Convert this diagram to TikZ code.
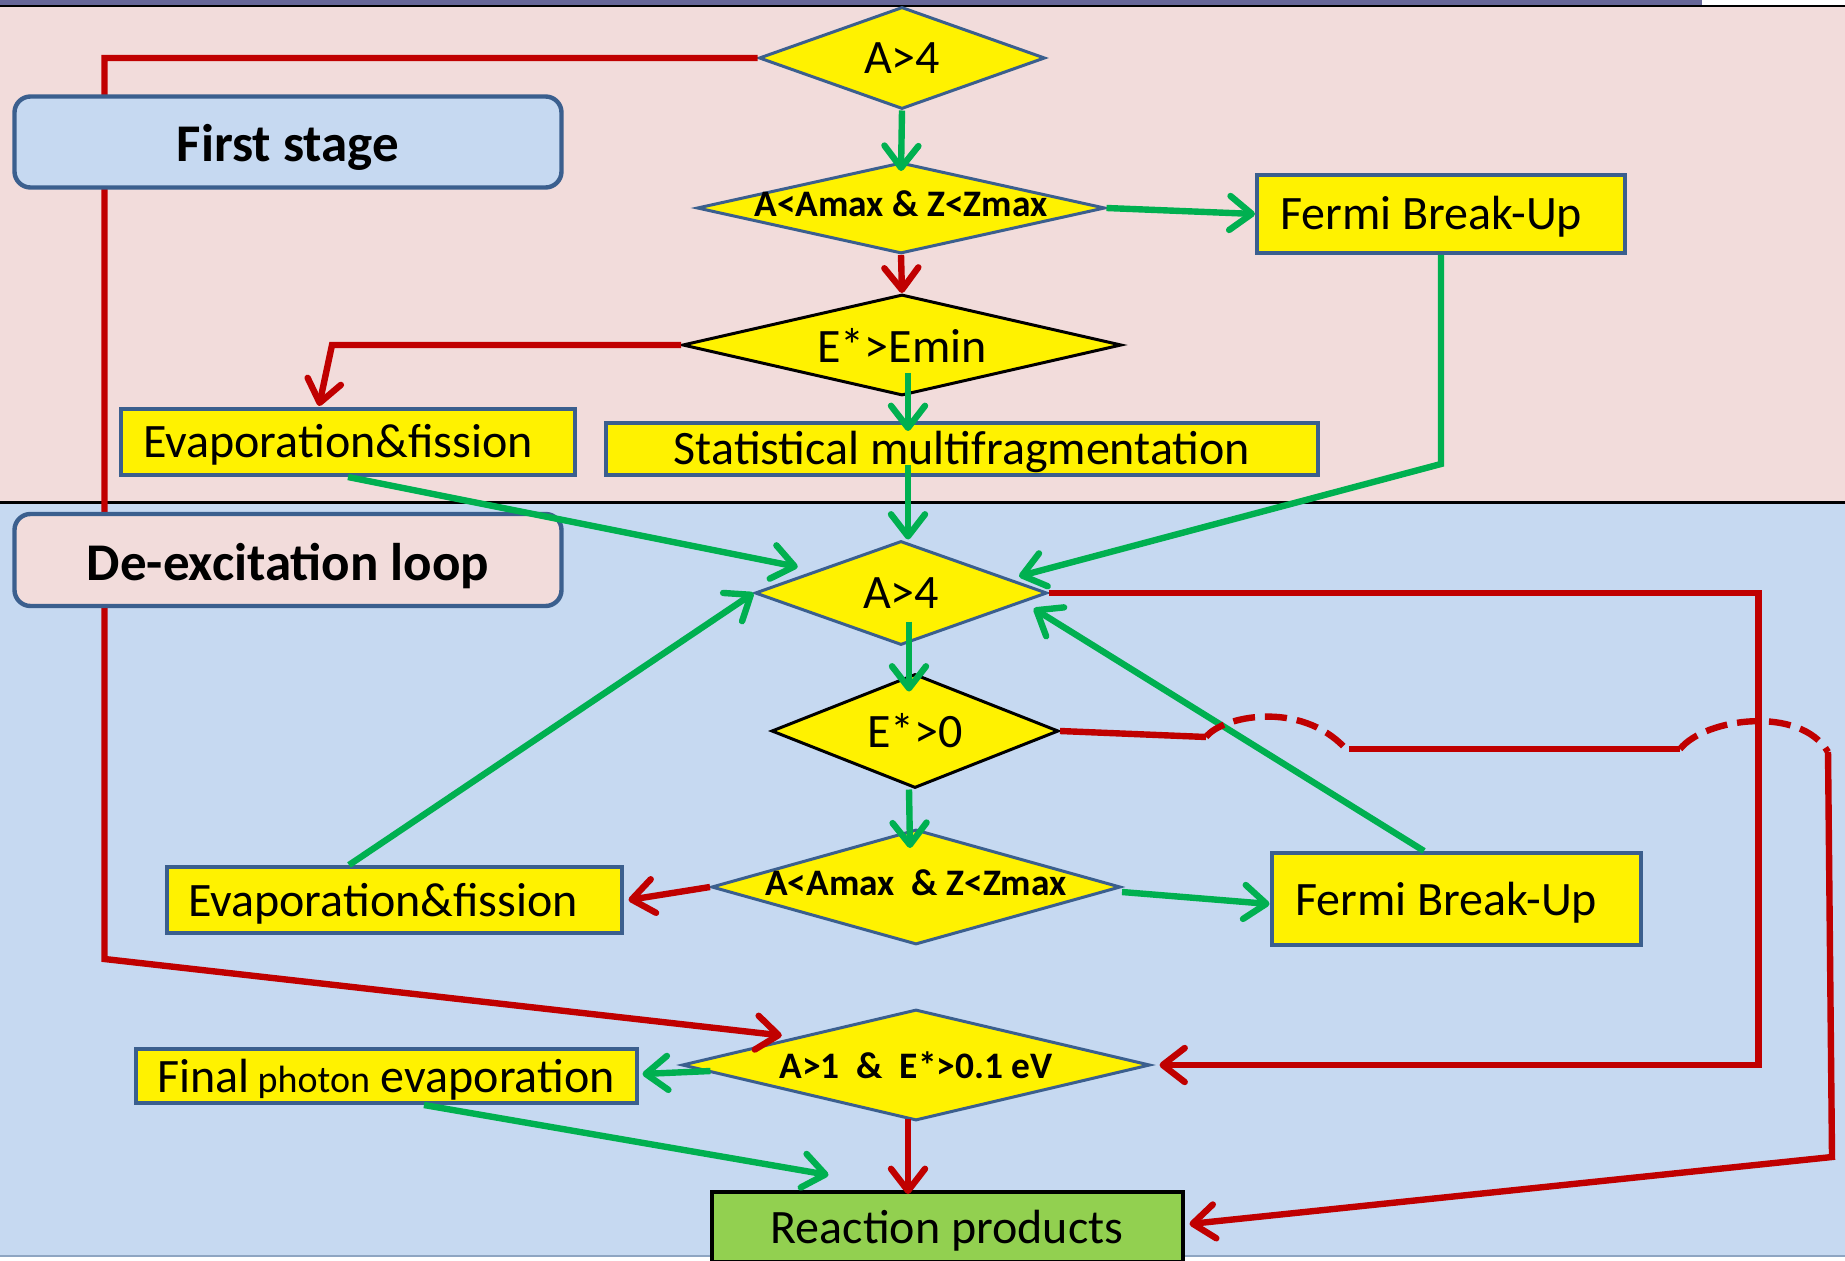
\documentclass[tikz,border=0pt]{standalone}
\usepackage{fontspec}
\setmainfont{Carlito}
\usetikzlibrary{shapes.geometric,arrows.meta,calc}
\definecolor{rosebg}{HTML}{F2DCDB}
\definecolor{skybg}{HTML}{C6D9F1}
\definecolor{band}{HTML}{676798}
\definecolor{rim}{HTML}{3B5F8E}
\definecolor{passgreen}{HTML}{00B050}
\definecolor{failred}{HTML}{C00000}
\definecolor{leafgreen}{HTML}{92D050}
\definecolor{hem}{HTML}{8EA5C2}

\begin{document}
\begin{tikzpicture}[x=.5pt,y=-.5pt,
  ask/.style={diamond,draw=rim,fill=yellow,line width=1.5pt,inner sep=0pt,font=\fontsize{24}{28}\selectfont},
  askbold/.style={ask,font=\bfseries\fontsize{18.7}{22}\selectfont},
  task/.style={draw=rim,fill=yellow,line width=2pt,inner sep=0pt,text height=16pt,text depth=0pt,font=\fontsize{24}{28}\selectfont},
  stagebox/.style={draw=rim,rounded corners=8pt,line width=2.2pt,inner sep=0pt,text height=20pt,text depth=0pt,font=\bfseries\fontsize{26.5}{30}\selectfont},
  passarrow/.style={passgreen,line width=3.2pt,-{Straight Barb[length=11pt,width=17pt,round]}},
  failarrow/.style={failred,line width=3.2pt,-{Straight Barb[length=11pt,width=17pt,round]}},
  failline/.style={failred,line width=3.2pt},
  failhop/.style={failline,dash pattern=on 11pt off 5pt}]
\useasboundingbox (0,0) rectangle (1845,1261);
\fill[rosebg] (0,7) rectangle (1845,502);
\fill[skybg] (0,502) rectangle (1845,1256);
\fill[white] (0,1256) rectangle (1845,1261);
\fill[band] (0,0) rectangle (1702,6);
\draw[line width=1pt] (0,6.5) -- (1845,6.5);
\draw[line width=1.5pt] (0,502) -- (1845,502);
\draw[hem,line width=1pt] (0,1256) -- (1845,1256);

\node[ask,minimum width=143pt,minimum height=51pt,aspect=2.8] (topA) at (902,58) {A>4};
\node[askbold,minimum width=204pt,minimum height=45.5pt,aspect=4.5,text height=8.5pt,text depth=0pt] (cond1) at (901,208) {A<Amax \& Z<Zmax};
\node[task,minimum width=184pt,minimum height=39pt] (fermiA) at (1441,214) {Fermi Break-Up\hspace*{10pt}};
\node[ask,draw=black,minimum width=219.5pt,minimum height=50.5pt,aspect=4.35] (emin) at (902,345) {E*>Emin};
\node[task,minimum width=227pt,minimum height=33pt] (evapA) at (348,442) {Evaporation\&fission\hspace*{10pt}};
\node[task,minimum width=356pt,minimum height=26pt] (stat) at (962,449) {Statistical multifragmentation};
\node[ask,minimum width=146pt,minimum height=52pt,aspect=2.8] (loopA) at (901,593) {A>4};
\node[ask,draw=black,minimum width=143.5pt,minimum height=57pt,aspect=2.5] (ezero) at (915,731) {E*>0};
\node[askbold,minimum width=204.5pt,minimum height=57.5pt,aspect=3.6,text height=8.5pt,text depth=0pt] (cond2) at (916,887) {A<Amax\ \ \& Z<Zmax};
\node[task,minimum width=227.5pt,minimum height=33pt] (evapB) at (394,900) {Evaporation\&fission\hspace*{11pt}};
\node[task,minimum width=184.5pt,minimum height=46pt] (fermiB) at (1456,899) {Fermi Break-Up\hspace*{10pt}};
\node[askbold,minimum width=234pt,minimum height=55.5pt,aspect=4.2] (cond3) at (916,1065) {A>1\ \ \&\ \ E*>0.1 eV};
\node[task,minimum width=250.5pt,minimum height=27pt] (photon) at (386,1076) {Final\,{\fontsize{19}{22}\selectfont photon} evaporation};
\node[task,fill=leafgreen,draw=black,minimum width=235.5pt,minimum height=35pt] (products) at (947,1227) {Reaction products};

\draw[failarrow] (topA.west) -- ++(-653,0) -- ++(0,901) -- ($(cond3.west)!.43!(cond3.north)+(0,-5)$);

\node[stagebox,fill=skybg,minimum width=273.5pt,minimum height=45.5pt] (first) at (288,142) {First stage};
\node[stagebox,fill=rosebg,minimum width=273.5pt,minimum height=46pt] (deexc) at (288,560) {De-excitation loop};

\draw[passarrow] (topA.south) -- ([yshift=-5pt]cond1.north);
\draw[passarrow] (cond1.east) -- (fermiA.west);
\draw[failarrow] (cond1.south) -- (emin.north);
\draw[failarrow] (emin.west) -- ++(-349,0) -- ($(evapA.north)+(-29,-1)$);
\draw[passarrow] ($(emin.south)+(6,-24)$) -- ($(emin.south |- stat.north)+(6,10)$);
\draw[passarrow] ($(emin.south |- stat.south)+(6,-12)$) -- ($(loopA.north)+(7,0)$);
\draw[passarrow] (evapA.south) -- ($(loopA.west)!.3!(loopA.north)+(0,-10)$);
\draw[passarrow] (fermiA.south) -- ++(0,209) -- ($(loopA.north)!.8!(loopA.east)+(0,-6)$);

\draw[passarrow] ($(loopA.south)+(8,-25)$) -- ($(ezero.north)+(-6,19)$);
\draw[passarrow] ($(ezero.south)+(-6,0)$) -- ($(cond2.north)+(-6,20)$);
\draw[passarrow] ($(cond2.east)+(0,5)$) -- ($(fermiB.west)+(0,5)$);
\draw[passarrow] ($(fermiB.north)+(-32,0)$) -- ($(loopA.east)!.29!(loopA.south)+(28,0)$);
\draw[passarrow] ($(evapB.north)+(-45,0)$) -- (loopA.west);
\draw[failarrow] (cond2.west) -- ($(evapB.east)+(5,0)$);
\draw[failarrow] (loopA.east) -- ++(710,0) |- ($(cond3.east)+(8,0)$);

\draw[failline] (ezero.east) -- (1206,737);
\draw[failhop] (1206,737) .. controls (1222,716) and (1300,700) .. (1345,748);
\draw[failline] (1349,749) -- (1680,749);
\draw[failhop] (1680,749) .. controls (1705,718) and (1800,705) .. (1828,752);
\draw[failarrow] (1828,752) -- (1832,1157) -- ($(products.east)+(5,-3)$);

\draw[passarrow] ($(cond3.west)+(30,6)$) -- ($(photon.east)+(4,-2)$);
\draw[passarrow] ($(photon.south)+(38,0)$) -- ($(products.north west)+(119,-15)$);
\draw[failarrow] ($(cond3.south)+(-8,-3)$) -- ($(cond3.south |- products.north)+(-8,4)$);
\end{tikzpicture}
\end{document}
